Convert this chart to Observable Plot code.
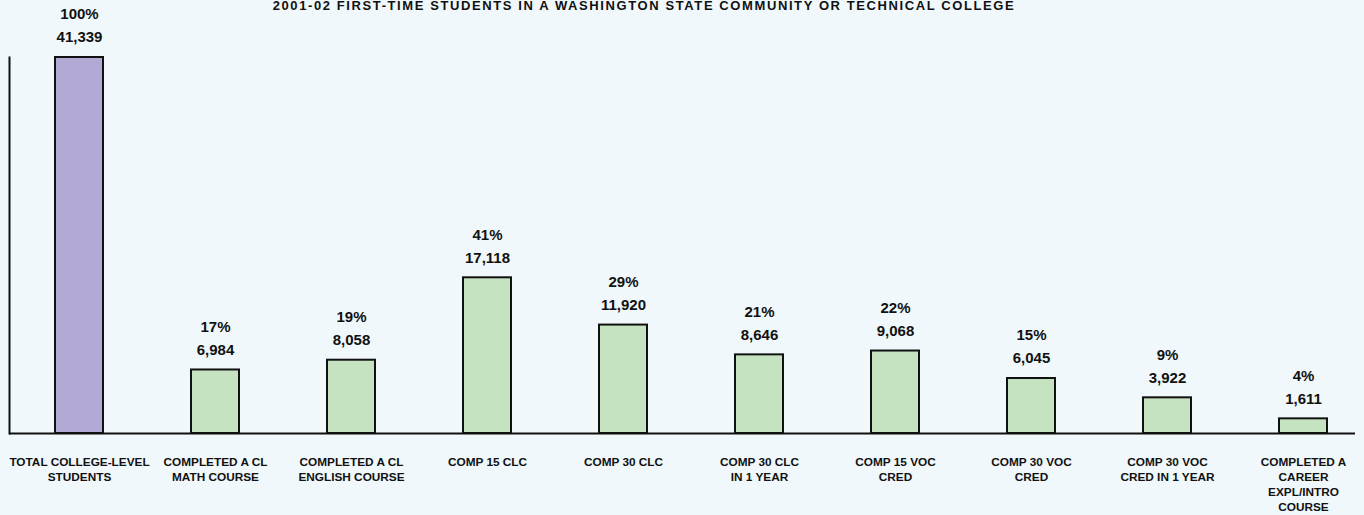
<!DOCTYPE html>
<html>
<head>
<meta charset="utf-8">
<script src="https://cdn.jsdelivr.net/npm/d3@7"></script>
<script src="https://cdn.jsdelivr.net/npm/@observablehq/plot@0.6"></script>
<style>
  html, body { margin: 0; padding: 0; background: #f0f8fb; }
  #wrap { position: relative; width: 1364px; height: 515px; }
  #title { position: absolute; top: -1px; left: 644px; transform: translateX(-50%); white-space: nowrap;
    font-family: "Liberation Sans", Arial, sans-serif; font-weight: bold; font-size: 13px; letter-spacing: 1.6px; color: #111; line-height: 14px; }
</style>
</head>
<body>
<div id="wrap">
  <div id="chart"></div>
  <div id="title">2001-02 FIRST-TIME STUDENTS IN A WASHINGTON STATE COMMUNITY OR TECHNICAL COLLEGE</div>
</div>
<script>
const categories = [
  "TOTAL COLLEGE-LEVEL\nSTUDENTS",
  "COMPLETED A CL\nMATH COURSE",
  "COMPLETED A CL\nENGLISH COURSE",
  "COMP 15 CLC",
  "COMP 30 CLC",
  "COMP 30 CLC\nIN 1 YEAR",
  "COMP 15 VOC\nCRED",
  "COMP 30 VOC\nCRED",
  "COMP 30 VOC\nCRED IN 1 YEAR",
  "COMPLETED A\nCAREER\nEXPL/INTRO\nCOURSE"
];
const counts = [41339, 6984, 8058, 17118, 11920, 8646, 9068, 6045, 3922, 1611];
const percents = ["100%", "17%", "19%", "41%", "29%", "21%", "22%", "15%", "9%", "4%"];
const groups = ["total", "sub", "sub", "sub", "sub", "sub", "sub", "sub", "sub", "sub"];

const data = categories.map((c, i) => ({cat: c, n: counts[i], pct: percents[i], g: groups[i]}));
const font = "'Liberation Sans', Arial, sans-serif";

const chart = Plot.plot({
  width: 1364,
  height: 515,
  marginLeft: 9,
  marginRight: 9,
  marginTop: 57,
  marginBottom: 82,
  style: {background: "transparent", fontFamily: font, color: "#111"},
  x: {domain: categories, range: [55, 1327], paddingInner: 0.65, paddingOuter: 0, axis: null},
  y: {domain: [0, 41339], axis: null},
  color: {domain: ["total", "sub"], range: ["#b2aad5", "#c5e3c1"]},
  marks: [
    Plot.frame({anchor: "left", stroke: "#111", strokeWidth: 2}),
    Plot.barY(data, {x: "cat", y: "n", fill: "g", stroke: "#111", strokeWidth: 2}),
    Plot.ruleY([0], {stroke: "#111", strokeWidth: 2}),
    Plot.text(data, {x: "cat", y: "n", text: d => d3.format(",")(d.n), dy: -20, fontSize: 15, fontWeight: "bold", fill: "#111"}),
    Plot.text(data, {x: "cat", y: "n", text: "pct", dy: -43, fontSize: 15, fontWeight: "bold", fill: "#111"}),
    Plot.text(data, {x: "cat", y: () => 0, text: "cat", lineAnchor: "top", dy: 22, lineHeight: 1.27, fontSize: 11.8, fontWeight: "bold", fill: "#111"})
  ]
});
document.getElementById("chart").appendChild(chart);
</script>
</body>
</html>
